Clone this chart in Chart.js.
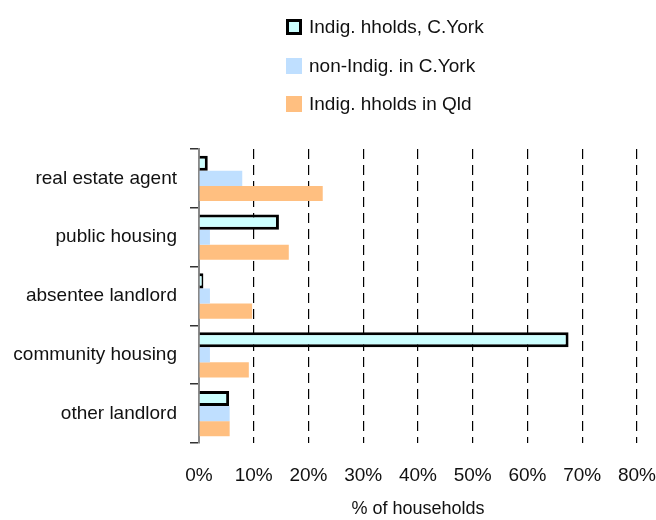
<!DOCTYPE html>
<html>
<head>
<meta charset="utf-8">
<script src="https://cdn.jsdelivr.net/npm/chart.js@4/dist/chart.umd.min.js"></script>
<style>
  html, body { margin: 0; padding: 0; background: #fff; }
  #wrap { position: relative; width: 656px; height: 520px; }
  #legend { position: absolute; left: 286px; top: 8px; font-family: Arial, "Liberation Sans", sans-serif; font-size: 19px; color: #111; }
  #legend div { display: flex; align-items: center; height: 38.5px; }
  #legend span.box { display: inline-block; width: 16px; height: 16px; margin-right: 7px; box-sizing: border-box; }
</style>
</head>
<body>
<div id="wrap">
  <canvas id="chart" width="656" height="520"></canvas>
  <div id="legend"></div>
</div>
<script>
const categories = ['real estate agent', 'public housing', 'absentee landlord', 'community housing', 'other landlord'];
const seriesNames = ['Indig. hholds, C.York', 'non-Indig. in C.York', 'Indig. hholds in Qld'];
const indigCYork = [1.6, 14.6, 0.8, 67.5, 5.5];
const nonIndigCYork = [7.9, 2.0, 2.0, 2.0, 5.6];
const indigQld = [22.6, 16.4, 9.7, 9.1, 5.6];
const xTicks = [0, 10, 20, 30, 40, 50, 60, 70, 80];

const fontFamily = 'Arial, "Liberation Sans", sans-serif';

const datasets = [
  { label: seriesNames[0], data: indigCYork, backgroundColor: '#CCFFFF', borderColor: '#000', borderWidth: 3 },
  { label: seriesNames[1], data: nonIndigCYork, backgroundColor: '#BFDFFF', borderWidth: 0 },
  { label: seriesNames[2], data: indigQld, backgroundColor: '#FFBF80', borderWidth: 0 }
];

const ctx = document.getElementById('chart').getContext('2d');
const chart = new Chart(ctx, {
  type: 'bar',
  data: { labels: categories, datasets: datasets },
  options: {
    indexAxis: 'y',
    responsive: false,
    animation: false,
    layout: { padding: { top: 149, right: 0, bottom: 0, left: 0 } },
    datasets: { bar: { categoryPercentage: 0.77, barPercentage: 1.0 } },
    scales: {
      x: {
        min: 0,
        max: 80,
        afterBuildTicks: (axis) => { axis.ticks = xTicks.map(v => ({ value: v })); },
        afterFit: (axis) => {
          axis.height = 77;
          axis.paddingLeft = 0;
          axis.paddingRight = 19;
        },
        ticks: {
          callback: (v) => v + '%',
          color: '#111',
          font: { family: fontFamily, size: 19 },
          padding: 21
        },
        grid: {
          color: '#000',
          lineWidth: 1.2,
          drawTicks: false,
          tickLength: 0
        },
        border: { display: false, dash: [10, 6] },
        title: {
          display: true,
          text: '% of households',
          color: '#111',
          font: { family: fontFamily, size: 18 },
          padding: { top: 0, bottom: 0 }
        }
      },
      y: {
        afterFit: (axis) => { axis.width = 199; },
        ticks: {
          color: '#111',
          font: { family: fontFamily, size: 19 },
          padding: 13
        },
        grid: {
          drawOnChartArea: false,
          drawTicks: true,
          tickLength: 9,
          color: '#333',
          lineWidth: 1.5
        },
        border: { display: true, color: '#888', width: 2 }
      }
    },
    plugins: {
      legend: { display: false },
      tooltip: { enabled: false }
    }
  }
});

// legend above the plot, one entry per line
const legendEl = document.getElementById('legend');
datasets.forEach(ds => {
  const row = document.createElement('div');
  const box = document.createElement('span');
  box.className = 'box';
  box.style.background = ds.backgroundColor;
  if (ds.borderWidth) box.style.border = ds.borderWidth + 'px solid ' + ds.borderColor;
  row.appendChild(box);
  row.appendChild(document.createTextNode(ds.label));
  legendEl.appendChild(row);
});
</script>
</body>
</html>
